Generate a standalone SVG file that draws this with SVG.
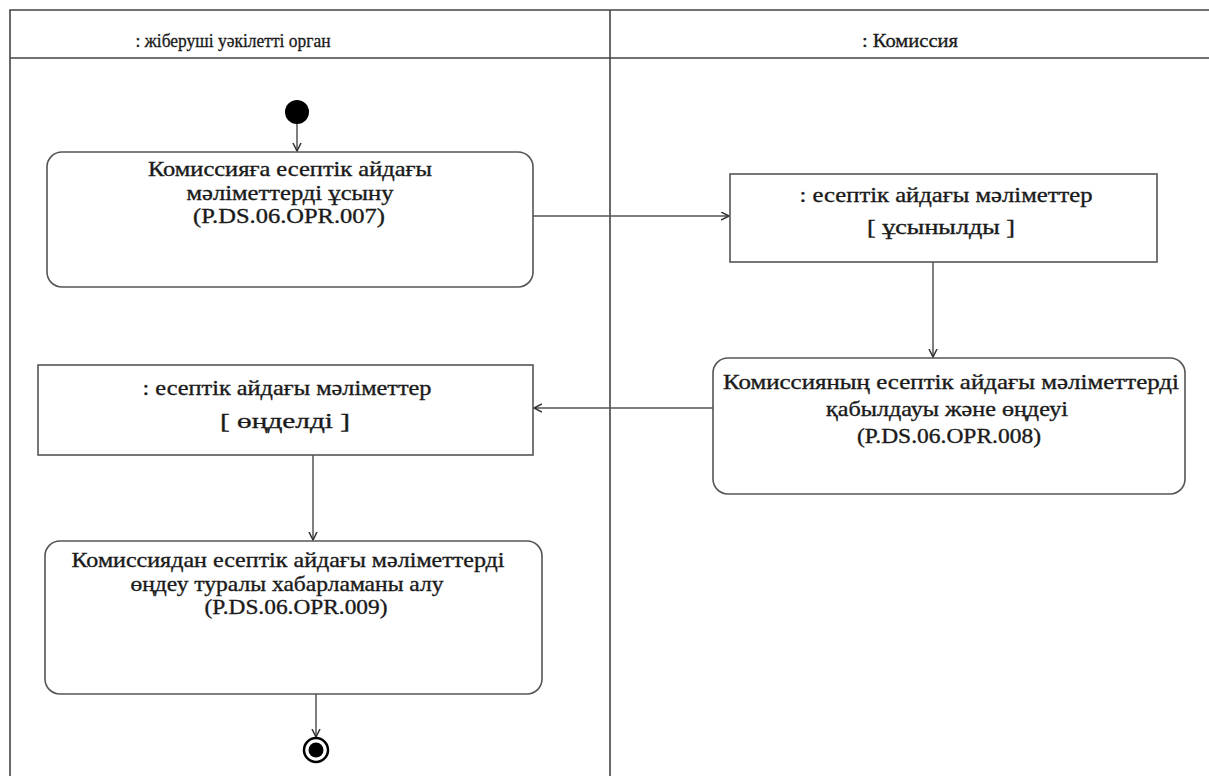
<svg xmlns="http://www.w3.org/2000/svg" width="1209" height="776" viewBox="0 0 1209 776">
<defs>
<style>
.frame{fill:none;stroke:#444;stroke-width:1.6}
.box{fill:#fff;stroke:#555;stroke-width:1.6}
.t{font-family:'Liberation Serif','Times New Roman',serif;font-size:21px;fill:#1a1a1a;stroke:#1a1a1a;stroke-width:0.35;text-anchor:middle}
.h{font-family:'Liberation Serif','Times New Roman',serif;font-size:18px;fill:#1a1a1a;stroke:#1a1a1a;stroke-width:0.3;text-anchor:middle}
.c{fill:none;stroke:#555;stroke-width:1.5}
</style>
<marker id="ah" markerWidth="10" markerHeight="10" refX="8" refY="4.5" orient="auto" markerUnits="userSpaceOnUse">
<path d="M0,0.5 L8,4.5 L0,8.5" fill="none" stroke="#333" stroke-width="1.5"/>
</marker>
</defs>
<rect width="1209" height="776" fill="#fff"/>
<g id="lanes">
<path class="frame" d="M10,776 V10 H1209 M10,58 H1209 M610,10 V776"/>
<text class="h" x="233" y="47" textLength="195" lengthAdjust="spacingAndGlyphs">: жіберуші уәкілетті орган</text>
<text class="h" x="910" y="47" textLength="96" lengthAdjust="spacingAndGlyphs">: Комиссия</text>
</g>
<g id="connectors">
<line class="c" x1="297" y1="124" x2="297" y2="151" marker-end="url(#ah)"/>
<line class="c" x1="533" y1="216" x2="729" y2="216" marker-end="url(#ah)"/>
<line class="c" x1="933" y1="262" x2="933" y2="357" marker-end="url(#ah)"/>
<line class="c" x1="713" y1="408" x2="534" y2="408" marker-end="url(#ah)"/>
<line class="c" x1="313" y1="455" x2="313" y2="540" marker-end="url(#ah)"/>
<line class="c" x1="316" y1="694" x2="316" y2="737" marker-end="url(#ah)"/>
</g>
<g id="start">
<circle cx="297" cy="112" r="12" fill="#000"/>
</g>
<g id="a1">
<rect class="box" x="47" y="152" width="486" height="135" rx="15"/>
<text class="t" x="290" y="176" textLength="284" lengthAdjust="spacingAndGlyphs">Комиссияға есептік айдағы</text>
<text class="t" x="290" y="200" textLength="207" lengthAdjust="spacingAndGlyphs">мәліметтерді ұсыну</text>
<text class="t" x="289" y="223" textLength="192" lengthAdjust="spacingAndGlyphs">(P.DS.06.OPR.007)</text>
</g>
<g id="o1">
<rect class="box" x="730" y="174" width="427" height="88"/>
<text class="t" x="946" y="202" textLength="293" lengthAdjust="spacingAndGlyphs">:  есептік айдағы мәліметтер</text>
<text class="t" x="941" y="234" textLength="148" lengthAdjust="spacingAndGlyphs">[  ұсынылды    ]</text>
</g>
<g id="a2">
<rect class="box" x="713" y="358" width="472" height="136" rx="15"/>
<text class="t" x="951" y="389" textLength="456" lengthAdjust="spacingAndGlyphs">Комиссияның есептік айдағы мәліметтерді</text>
<text class="t" x="947" y="416" textLength="242" lengthAdjust="spacingAndGlyphs">қабылдауы және өңдеуі</text>
<text class="t" x="949" y="443" textLength="184" lengthAdjust="spacingAndGlyphs">(P.DS.06.OPR.008)</text>
</g>
<g id="o2">
<rect class="box" x="38" y="365" width="495" height="90"/>
<text class="t" x="287" y="395" textLength="289" lengthAdjust="spacingAndGlyphs">: есептік айдағы мәліметтер</text>
<text class="t" x="285" y="428" textLength="130" lengthAdjust="spacingAndGlyphs">[   өңделді    ]</text>
</g>
<g id="a3">
<rect class="box" x="45" y="541" width="497" height="153" rx="15"/>
<text class="t" x="288" y="567" textLength="433" lengthAdjust="spacingAndGlyphs">Комиссиядан есептік айдағы мәліметтерді</text>
<text class="t" x="287" y="591" textLength="313" lengthAdjust="spacingAndGlyphs">өңдеу туралы хабарламаны алу</text>
<text class="t" x="296" y="614" textLength="183" lengthAdjust="spacingAndGlyphs">(P.DS.06.OPR.009)</text>
</g>
<g id="end">
<circle cx="316" cy="750" r="12" fill="#fff" stroke="#000" stroke-width="2.5"/>
<circle cx="316" cy="750" r="7.5" fill="#000"/>
</g>
</svg>
